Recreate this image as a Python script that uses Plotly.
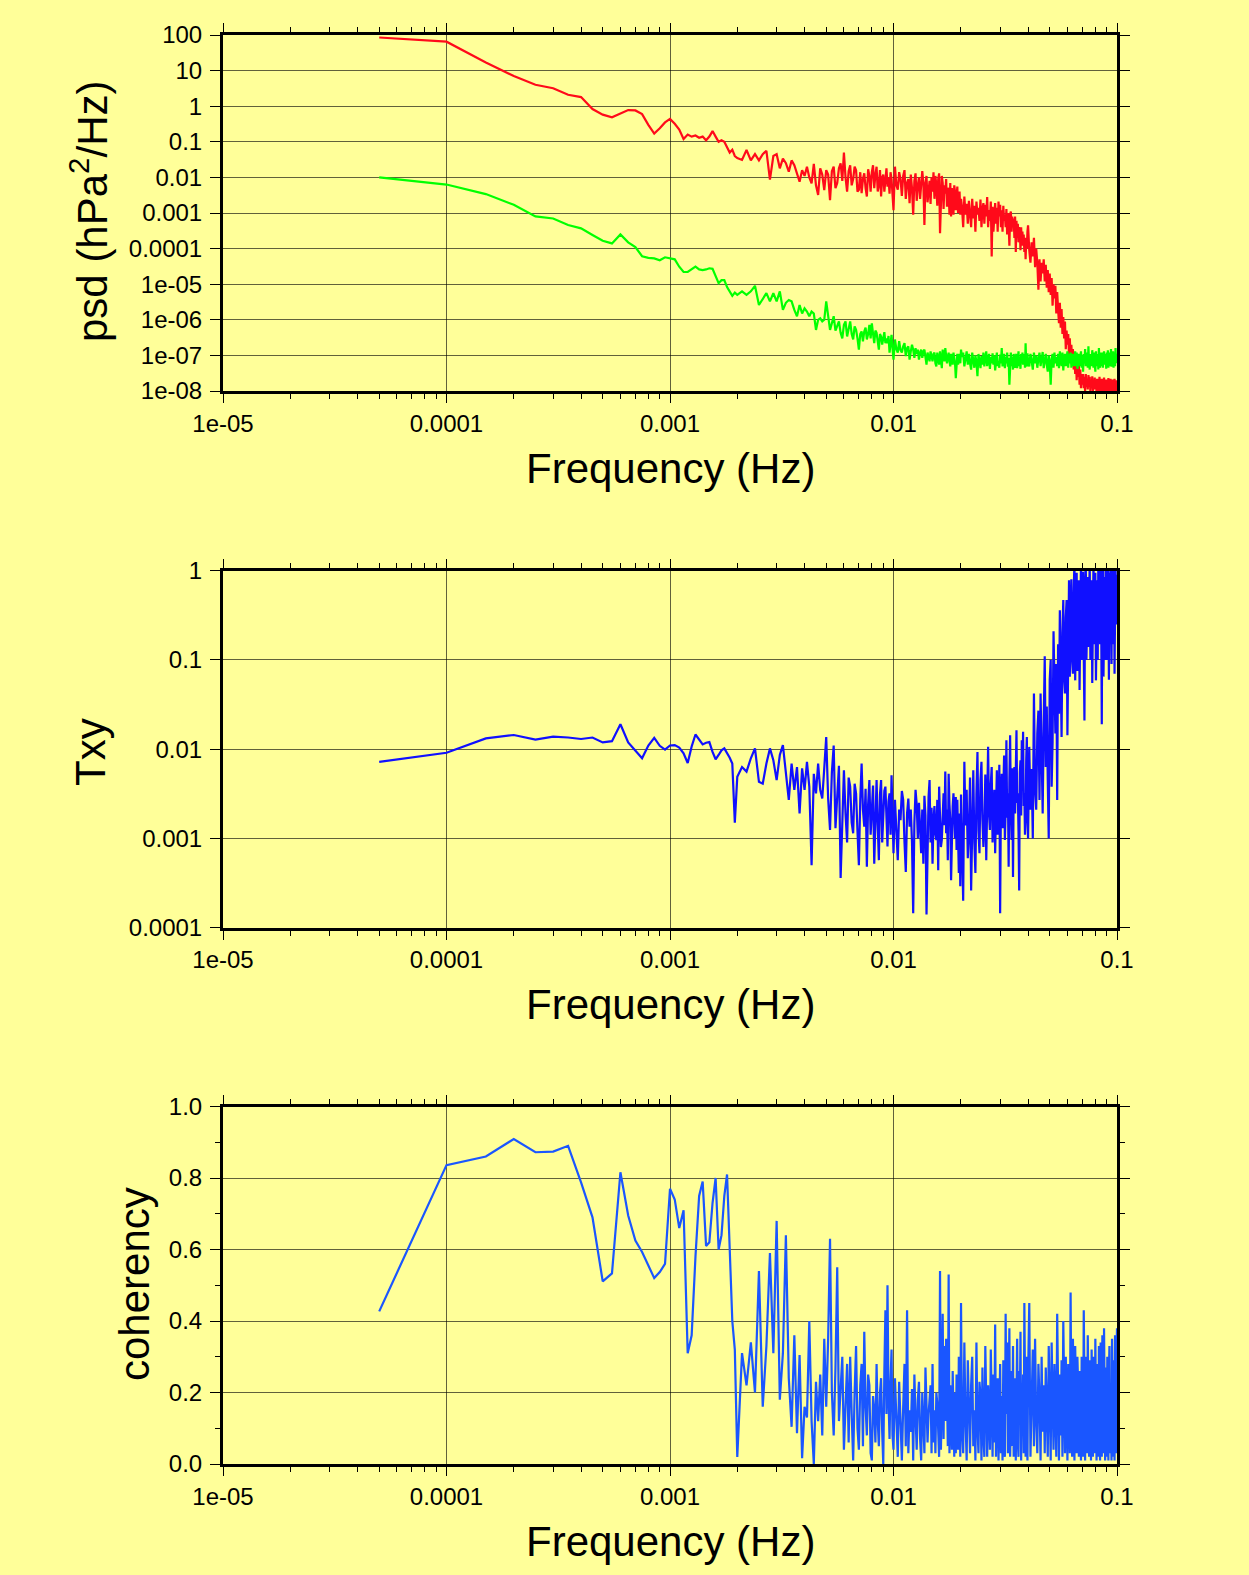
import plotly.graph_objects as go

# ---- frequency grid (Hz): multiples of the 5e-5 Hz resolution, sampled where values were read
df_hz = 5e-5
freq_index = (list(range(1, 41)) + list(range(42, 101, 2)) + list(range(102, 201, 2))
              + list(range(203, 402, 3)) + list(range(405, 801, 5)) + list(range(810, 2001, 10)))
freq = [k * df_hz for k in freq_index]

# ---- panel 1: power spectral densities (hPa^2/Hz)
psd_red = [
    85, 65, 17, 7, 4.0, 3.2, 2.1, 1.8, 0.83, 0.58,
    0.49, 0.63, 0.78, 0.76, 0.6, 0.3, 0.17, 0.24, 0.35, 0.44,
    0.32, 0.22, 0.12, 0.16, 0.14, 0.15, 0.13, 0.14, 0.11, 0.14,
    0.2, 0.14, 0.1, 0.11, 0.1, 0.07, 0.05, 0.06, 0.04, 0.035,
    0.031, 0.059, 0.03, 0.045, 0.03, 0.045, 0.056, 0.0087, 0.04, 0.045,
    0.018, 0.034, 0.025, 0.0145, 0.03, 0.022, 0.013, 0.0076, 0.016, 0.011,
    0.02, 0.01, 0.0068, 0.024, 0.006, 0.0032, 0.018, 0.012, 0.0044, 0.016,
    0.012, 0.0023, 0.015, 0.02, 0.005, 0.007, 0.018, 0.025, 0.008, 0.05,
    0.01, 0.004, 0.015, 0.022, 0.006, 0.009, 0.02, 0.016, 0.004, 0.0045,
    0.014, 0.0036, 0.009, 0.013, 0.005, 0.0029, 0.017, 0.011, 0.004, 0.014,
    0.022, 0.005, 0.012, 0.02, 0.004, 0.006, 0.016, 0.0029, 0.01, 0.012,
    0.004, 0.008, 0.018, 0.0055, 0.01, 0.0035, 0.014, 0.009, 0.004, 0.0012,
    0.02, 0.006, 0.0045, 0.014, 0.009, 0.003, 0.011, 0.016, 0.0025, 0.007,
    0.009, 0.0019, 0.012, 0.005, 0.0009, 0.008, 0.013, 0.0022, 0.006, 0.01,
    0.0025, 0.009, 0.015, 0.007, 0.00046, 0.0068, 0.011, 0.002, 0.005, 0.008,
    0.0018, 0.01, 0.004, 0.014, 0.0025, 0.011, 0.006, 0.0016, 0.009, 0.013,
    0.00027, 0.003, 0.011, 0.007, 0.0013, 0.006, 0.0035, 0.009, 0.0015, 0.005,
    0.0045, 0.0009, 0.007, 0.0008, 0.005, 0.0025, 0.0009, 0.006, 0.004, 0.0012,
    0.0038, 0.0055, 0.001, 0.003, 0.004, 0.0009, 0.0025,
    1.5e-3,
    4e-4, 2.9e-3, 9e-4, 1.8e-3, 5e-4, 2.2e-3, 1.1e-3, 4e-4, 2.5e-3, 7e-4,
    1.6e-3, 3e-4, 2.1e-3, 9e-4, 1.4e-3, 6e-4, 2.4e-3, 4e-4, 1.3e-3, 1.9e-3,
    5e-4, 1.7e-3, 8e-4, 2.8e-3, 4e-4, 1.2e-3, 6e-4, 2.1e-3, 6e-5, 1.5e-3,
    3e-4, 1.1e-3, 1.9e-3, 5e-4, 1.4e-3, 3e-4, 2.1e-3, 8e-4, 1.7e-3, 4e-4,
    1.2e-3, 3e-4, 1.6e-3, 6e-4, 9e-4, 4e-4, 1.3e-3, 2.5e-4, 1.0e-3, 5e-4,
    1.2e-4, 9e-4, 1.1e-3, 3e-4, 8e-4, 4e-4, 7e-4, 2e-4, 8e-4, 8e-5,
    6e-4, 2e-4, 5e-4, 1.5e-4, 4e-4, 3e-4, 9e-5, 4e-4, 1.2e-4, 3e-4,
    1.2e-4, 2.5e-4, 8e-5, 2e-4, 5e-5, 1.8e-4, 1e-4, 3e-4, 4.5e-4,
    9e-5, 4e-5, 1.5e-4, 6e-5, 2e-4, 3e-5, 1e-4, 4e-5, 7e-6, 5e-5,
    1.2e-5, 4e-5, 2e-5, 5e-5, 1.2e-5, 3.5e-5, 8e-6, 2.5e-5, 6e-6, 2e-5,
    5e-6, 1.5e-5, 2.5e-6, 1e-5, 4e-6, 9e-6, 1.5e-6, 6e-6, 2e-6, 8e-7,
    3e-6, 6e-7, 2e-6, 4e-7, 1.2e-6, 3e-7, 9e-7, 1.5e-7, 5e-7, 2e-7,
    4e-7, 1e-7, 3e-7, 8e-8, 2e-7, 6e-8, 1.5e-7, 4e-8, 1e-7, 3e-8,
    8e-8, 2e-8, 6e-8, 2.5e-8, 5e-8, 1.5e-8, 4e-8, 1.2e-8, 3e-8, 1.5e-8,
    3e-8, 1.2e-8, 2.5e-8, 1e-8, 3e-8, 1.3e-8, 2.2e-8, 1.1e-8, 2.8e-8, 1.3e-8,
    2.5e-8, 1e-8, 2e-8, 1.2e-8, 2.6e-8, 1e-8, 2e-8, 1.1e-8, 2.4e-8, 1.2e-8,
    2e-8, 9e-9, 2.2e-8, 1.1e-8, 1.8e-8, 1e-8, 2.5e-8, 1.1e-8, 2e-8, 9e-9,
    2.2e-8, 1.1e-8, 1.9e-8, 1e-8, 2.4e-8, 1.2e-8, 1.8e-8, 9e-9, 2.1e-8, 1.1e-8,
    2e-8, 9e-9, 2.3e-8, 1.1e-8, 1.7e-8, 1e-8, 2.2e-8, 9e-9, 1.9e-8, 1.1e-8,
    2.1e-8, 1e-8, 1.8e-8, 9e-9, 2.2e-8, 1.1e-8, 1.7e-8, 1e-8, 2e-8, 1.2e-8,
]

psd_green = [
    0.01, 0.0063, 0.0034, 0.0017, 0.0008, 0.0007, 0.00046, 0.00037, 0.00024, 0.000166,
    0.00014, 0.00025, 0.00015, 0.00011, 6.1e-5, 5.5e-5, 5.3e-5, 4.7e-5, 5.7e-5, 5.3e-5,
    5e-5, 3.1e-5, 2.2e-5, 2.2e-5, 2.6e-5, 3.1e-5, 2.6e-5, 2.5e-5, 2.6e-5, 2.8e-5,
    2.7e-5, 1.6e-5, 1.07e-5, 1.3e-5, 1.3e-5, 8.3e-6, 6.3e-6, 4.7e-6, 5.8e-6, 5e-6,
    6.3e-6, 5e-6, 6.3e-6, 9e-6, 2.6e-6, 4e-6, 5.6e-6, 3.3e-6, 5.6e-6, 3.3e-6,
    6.3e-6, 1.9e-6, 3e-6, 3.6e-6, 3.3e-6, 1.9e-6, 1.26e-6, 2.6e-6, 1.5e-6, 2.1e-6,
    1.7e-6, 1.26e-6, 1.7e-6, 1.5e-6, 5.2e-7, 1e-6, 1.1e-6, 9e-7, 1e-6, 3.3e-6,
    1.2e-6, 5.2e-7, 8e-7, 1.26e-6, 5e-7, 6.5e-7, 9e-7, 4.3e-7, 3e-7, 7.2e-7,
    9e-7, 3.4e-7, 6e-7, 9e-7, 4e-7, 2.8e-7, 6.5e-7, 5.2e-7, 3e-7, 1.45e-7,
    4e-7, 4.7e-7, 2.5e-7, 4.7e-7, 6e-7, 2.8e-7, 4e-7, 7.2e-7, 3e-7, 8e-7,
    4e-7, 2.2e-7, 5e-7, 4.3e-7, 2.5e-7, 1.45e-7, 4e-7, 3.4e-7, 2e-7, 3.4e-7,
    4.5e-7, 2.2e-7, 3e-7, 2.2e-7, 3.5e-7, 1.2e-7, 2.5e-7, 3.8e-7, 1.6e-7, 7.6e-8,
    2.8e-7, 1.5e-7, 1.2e-7, 2.5e-7, 1.4e-7, 1.2e-7, 1.8e-7, 2.2e-7, 9.5e-8, 1.6e-7,
    1.8e-7, 7.6e-8, 1.3e-7, 2e-7, 1.45e-7, 8.5e-8, 1.6e-7, 1.1e-7, 1.45e-7, 7.6e-8,
    1.2e-7, 1.45e-7, 8.5e-8, 1.3e-7, 1.45e-7, 7e-8, 5.5e-8, 1.2e-7, 9e-8, 6.8e-8,
    1.3e-7, 1e-7, 6.8e-8, 1.1e-7, 1.2e-7, 6e-8, 4.9e-8, 1.2e-7, 9e-8, 5.5e-8,
    1.3e-7, 8e-8, 4.4e-8, 1.45e-7, 9e-8, 6.8e-8, 1.6e-7, 1e-7, 6e-8, 9e-8,
    1.2e-7, 7e-8, 4.9e-8, 1.1e-7, 8e-8, 5.5e-8, 1.2e-7, 9e-8, 6e-8, 2.3e-8,
    8e-8, 1.1e-7, 5.5e-8, 9e-8, 1.1e-7, 6e-8, 1.45e-7,
    9e-8,
    1.2e-7, 4.9e-8, 8e-8, 1.3e-7, 5.5e-8, 1.1e-7, 6e-8, 4e-8, 1.2e-7, 7e-8,
    4.5e-8, 1e-7, 6.5e-8, 2.6e-8, 1.1e-7, 7e-8, 4.4e-8, 9.5e-8, 5.5e-8, 1.2e-7,
    4.9e-8, 8.5e-8, 1.3e-7, 5e-8, 7.5e-8, 1.1e-7, 4.2e-8, 9e-8, 6e-8, 1.15e-7,
    5.5e-8, 1e-7, 3.8e-8, 8e-8, 1.2e-7, 5e-8, 7e-8, 4.5e-8, 1.05e-7, 6e-8,
    1.6e-7, 4.9e-8, 8e-8, 1.1e-7, 4.4e-8, 9e-8, 6e-8, 1.2e-7, 4.8e-8, 8.5e-8,
    1.5e-8, 7.6e-8, 1.2e-7, 5e-8, 9e-8, 4e-8, 1.1e-7, 6.5e-8, 4.5e-8, 1e-7,
    1.1e-7, 4.4e-8, 8e-8, 1.3e-7, 5e-8, 7e-8, 4.2e-8, 1.1e-7, 6e-8, 1.2e-7,
    5.5e-8, 9e-8, 1.1e-7, 4.5e-8, 2.2e-7, 6e-8, 4.9e-8, 1.15e-7, 7e-8,
    4.9e-8, 1.1e-7, 7e-8, 4e-8, 1.2e-7, 6e-8, 1e-7, 4.5e-8, 8e-8, 1.2e-7,
    5e-8, 9e-8, 1.25e-7, 4.4e-8, 7e-8, 1.1e-7, 5.5e-8, 3.5e-8, 1e-7, 6.5e-8,
    1.5e-8, 8e-8, 1.1e-7, 4.5e-8, 1.2e-7, 6e-8, 9e-8, 5e-8, 1.1e-7, 4.4e-8,
    1.3e-7, 7e-8, 5e-8, 1.2e-7, 3.8e-8, 9e-8, 1.1e-7, 5e-8, 8e-8, 1.3e-7,
    4.5e-8, 1.1e-7, 6e-8, 1.2e-7, 4.5e-8, 8e-8, 1.1e-7, 5e-8, 7e-8, 1.3e-7,
    5e-8, 1.2e-7, 4.2e-8, 9e-8, 1.1e-7, 5e-8, 7.5e-8, 1.3e-7, 4.5e-8, 1e-7,
    3.5e-8, 1.1e-7, 6e-8, 1.5e-7, 5e-8, 8e-8, 1.2e-7, 4.5e-8, 1.8e-7, 6e-8,
    4e-8, 1.1e-7, 7e-8, 5e-8, 1.4e-7, 6e-8, 4.5e-8, 1.2e-7, 8e-8, 3.5e-8,
    1.3e-7, 5e-8, 9e-8, 1.1e-7, 4e-8, 1.6e-7, 6e-8, 4.5e-8, 1.2e-7, 7e-8,
    5e-8, 1.2e-7, 4.5e-8, 1e-7, 1.3e-7, 5.5e-8, 8e-8, 1.1e-7, 4.2e-8, 1.2e-7,
    6e-8, 1.4e-7, 4.5e-8, 9e-8, 1.2e-7, 5e-8, 7e-8, 1.5e-7, 4.8e-8, 1.1e-7,
    6e-8, 1.3e-7, 4.5e-8, 1e-7, 1.2e-7, 5e-8, 1.6e-7, 7e-8, 1.1e-7, 6e-8,
]

# ---- panel 2: transfer function Txy
txy = [
    0.0072, 0.0091, 0.0132, 0.0144, 0.0128, 0.0138, 0.0135, 0.013, 0.0135, 0.0119,
    0.0123, 0.019, 0.0119, 0.0097, 0.0079, 0.011, 0.0134, 0.0109, 0.0099, 0.011,
    0.0111, 0.0104, 0.009, 0.007, 0.0107, 0.0146, 0.0126, 0.0113, 0.0118, 0.012,
    0.0093, 0.0077, 0.0086, 0.0097, 0.0102, 0.0091, 0.008, 0.0069, 0.0015, 0.0049,
    0.0063, 0.0056, 0.0079, 0.0102, 0.0043, 0.0041, 0.0069, 0.0102, 0.0075, 0.0045,
    0.0086, 0.0111, 0.0049, 0.0027, 0.0069, 0.0035, 0.0063, 0.0019, 0.0061, 0.0035,
    0.0072, 0.0038, 0.0005, 0.0053, 0.0032, 0.0069, 0.0035, 0.0028, 0.0061, 0.0137,
    0.0028, 0.00124, 0.0055, 0.011, 0.0013, 0.0032, 0.0065, 0.00036, 0.0022, 0.0058,
    0.0019, 0.0009, 0.0048, 0.0038, 0.0015, 0.00114, 0.0041, 0.0032, 0.0012, 0.0005,
    0.0027, 0.0069, 0.0021, 0.00135, 0.0036, 0.00048, 0.0024, 0.0045, 0.0011, 0.0023,
    0.0039, 0.00052, 0.0017, 0.0045, 0.0014, 0.00057, 0.0031, 0.0045, 0.0009, 0.0018,
    0.0034, 0.0038, 0.0012, 0.00081, 0.0026, 0.0032, 0.0011, 0.0051, 0.0019, 0.00068,
    0.0027, 0.0011, 0.00057, 0.0021, 0.0016, 0.0034, 0.0027, 0.0009, 0.00042, 0.0019,
    0.0028, 0.00135, 0.0021, 0.0009, 0.000145, 0.0015, 0.0035, 0.0024, 0.001, 0.0025,
    0.0013, 0.00068, 0.0021, 0.00052, 0.003, 0.0018, 0.00014, 0.00135, 0.0029, 0.0045,
    0.0009, 0.0022, 0.00052, 0.0016, 0.0023, 0.0011, 0.00096, 0.0027, 0.00044, 0.0038,
    0.0019, 0.0008, 0.00096, 0.0025, 0.0032, 0.0014, 0.0056, 0.00114, 0.0021, 0.00057,
    0.0053, 0.0024, 0.0016, 0.00034, 0.0015, 0.0023, 0.0032, 0.0013, 0.001, 0.0029,
    0.00074, 0.0027, 0.0012, 0.00041, 0.0019, 0.00029, 0.0031,
    0.0012,
    0.0002, 0.0072, 0.0014, 0.0035, 0.0006, 0.00114, 0.0048, 0.00026, 0.0022, 0.0058,
    0.0009, 0.00041, 0.0031, 0.0093, 0.0012, 0.00068, 0.0045, 0.0072, 0.0016, 0.0008,
    0.00135, 0.0052, 0.00057, 0.0028, 0.0106, 0.0019, 0.00124, 0.0041, 0.0063, 0.0009,
    0.0016, 0.0035, 0.00068, 0.0024, 0.0058, 0.0011, 0.0019, 0.0067, 0.000145, 0.0029,
    0.0053, 0.0013, 0.0027, 0.0085, 0.00096, 0.0021, 0.0126, 0.0017, 0.0032, 0.00048,
    0.0045, 0.0143, 0.0022, 0.00096, 0.0061, 0.00037, 0.0039, 0.0063, 0.0019, 0.0098,
    0.0163, 0.0025, 0.0032, 0.0012, 0.00026, 0.0055, 0.0075, 0.0018, 0.0126, 0.0034,
    0.0157, 0.0023, 0.0032, 0.0011, 0.0016, 0.0075, 0.0137, 0.0021, 0.001,
    0.0106, 0.0021, 0.006, 0.001, 0.042, 0.0035, 0.0021, 0.015, 0.027, 0.0027,
    0.042, 0.0055, 0.0019, 0.02, 0.11, 0.0063, 0.03, 0.0045, 0.001, 0.06,
    0.1, 0.0038, 0.012, 0.21, 0.04, 0.015, 0.09, 0.0027, 0.15, 0.025,
    0.36, 0.03, 0.0137, 0.2, 0.47, 0.06, 0.042, 0.3, 0.47, 0.0143,
    0.15, 0.78, 0.065, 0.4, 0.8, 0.1, 0.07, 0.55, 1.3, 0.059,
    0.25, 0.95, 0.075, 0.5, 0.78, 0.046, 0.3, 1.3, 0.1, 0.6,
    0.97, 0.12, 0.021, 0.7, 1.3, 0.1, 0.4, 0.85, 0.14, 0.6,
    1.3, 0.1, 0.35, 0.78, 0.055, 0.5, 1.3, 0.15, 0.7, 0.95,
    0.059, 0.4, 0.78, 0.1, 1.3, 0.2, 0.6, 0.15, 1.3, 0.25,
    0.019, 0.7, 1.3, 0.065, 0.5, 0.85, 0.1, 1.3, 0.3, 0.8,
    0.1, 1.3, 0.4, 0.06, 0.95, 0.2, 1.3, 0.5, 0.09, 0.85,
    1.3, 0.15, 0.6, 1.3, 0.07, 0.7, 1.3, 0.25, 0.9, 0.36,
]

# ---- panel 3: coherency
coherency = [
    0.427, 0.836, 0.86, 0.909, 0.872, 0.874, 0.89, 0.788, 0.69, 0.511,
    0.533, 0.816, 0.695, 0.625, 0.593, 0.556, 0.52, 0.537, 0.56, 0.77,
    0.74, 0.66, 0.71, 0.31, 0.36, 0.58, 0.75, 0.79, 0.61, 0.62,
    0.73, 0.80, 0.60, 0.64, 0.75, 0.81, 0.6, 0.40, 0.32, 0.02,
    0.31, 0.22, 0.34, 0.2, 0.54, 0.16, 0.33, 0.59, 0.31, 0.68,
    0.18, 0.31, 0.64, 0.24, 0.104, 0.36, 0.086, 0.305, 0.016, 0.16,
    0.13, 0.4, 0.12, 0.0, 0.23, 0.12, 0.25, 0.08, 0.35, 0.16,
    0.35, 0.63, 0.2, 0.08, 0.27, 0.55, 0.12, 0.22, 0.3, 0.04,
    0.18, 0.28, 0.06, 0.3, 0.14, 0.01, 0.2, 0.33, 0.1, 0.04,
    0.22, 0.28, 0.05, 0.37, 0.16, 0.08, 0.25, 0.22, 0.03, 0.01,
    0.19, 0.15, 0.06, 0.28, 0.12, 0.05, 0.2, 0.24, 0.09, 0.0,
    0.26, 0.43, 0.14, 0.5, 0.18, 0.07, 0.23, 0.32, 0.08, 0.04,
    0.24, 0.1, 0.02, 0.23, 0.12, 0.01, 0.16, 0.28, 0.05, 0.43,
    0.03, 0.15, 0.09, 0.21, 0.01, 0.25, 0.13, 0.04, 0.18, 0.23,
    0.07, 0.01, 0.2, 0.12, 0.03, 0.27, 0.13, 0.06, 0.14, 0.2,
    0.22, 0.03, 0.28, 0.06, 0.15, 0.03, 0.2, 0.17, 0.08, 0.02,
    0.54, 0.04, 0.18, 0.42, 0.07, 0.33, 0.12, 0.35, 0.2, 0.05,
    0.53, 0.03, 0.22, 0.15, 0.04, 0.26, 0.16, 0.02, 0.2, 0.03,
    0.25, 0.12, 0.04, 0.3, 0.15, 0.02, 0.45,
    0.1,
    0.03, 0.34, 0.12, 0.01, 0.29, 0.18, 0.03, 0.22, 0.3, 0.05,
    0.15, 0.01, 0.34, 0.1, 0.03, 0.23, 0.19, 0.01, 0.27, 0.08,
    0.02, 0.33, 0.14, 0.02, 0.22, 0.09, 0.04, 0.32, 0.17, 0.02,
    0.25, 0.06, 0.39, 0.02, 0.16, 0.24, 0.01, 0.12, 0.28, 0.03,
    0.19, 0.01, 0.29, 0.08, 0.02, 0.42, 0.14, 0.34, 0.03, 0.21,
    0.38, 0.02, 0.13, 0.26, 0.05, 0.33, 0.02, 0.18, 0.24, 0.01,
    0.2, 0.35, 0.06, 0.02, 0.26, 0.15, 0.37, 0.01, 0.22, 0.1,
    0.25, 0.03, 0.45, 0.12, 0.02, 0.3, 0.18, 0.01, 0.24,
    0.45, 0.02, 0.2, 0.32, 0.05, 0.35, 0.12, 0.03, 0.28, 0.18,
    0.01, 0.3, 0.09, 0.22, 0.03, 0.27, 0.15, 0.02, 0.33, 0.1,
    0.01, 0.34, 0.19, 0.04, 0.28, 0.12, 0.02, 0.42, 0.21, 0.01,
    0.25, 0.08, 0.29, 0.02, 0.4, 0.16, 0.03, 0.3, 0.11, 0.01,
    0.28, 0.2, 0.03, 0.48, 0.14, 0.02, 0.35, 0.09, 0.01, 0.33,
    0.17, 0.03, 0.3, 0.22, 0.02, 0.26, 0.12, 0.01, 0.3, 0.2,
    0.02, 0.43, 0.1, 0.01, 0.3, 0.18, 0.03, 0.36, 0.24, 0.02,
    0.29, 0.08, 0.01, 0.32, 0.15, 0.02, 0.3, 0.21, 0.03, 0.35,
    0.13, 0.01, 0.28, 0.19, 0.02, 0.33, 0.1, 0.01, 0.34, 0.22,
    0.02, 0.36, 0.14, 0.03, 0.38, 0.2, 0.01, 0.27, 0.16, 0.02,
    0.3, 0.11, 0.01, 0.25, 0.33, 0.03, 0.22, 0.12, 0.01, 0.35,
    0.18, 0.02, 0.29, 0.24, 0.01, 0.36, 0.14, 0.03, 0.3, 0.38,
]

for name, s in [("psd_red", psd_red), ("psd_green", psd_green), ("txy", txy), ("coherency", coherency)]:
    assert len(s) == len(freq), (name, len(s), len(freq))

# ---- axis ticks
x_tickvals = [1e-5, 1e-4, 1e-3, 1e-2, 1e-1]
x_ticktext = ["1e-05", "0.0001", "0.001", "0.01", "0.1"]
x_minor = [m * 10.0 ** e for e in range(-5, -1) for m in range(2, 10)]
psd_tickvals = [1e-8, 1e-7, 1e-6, 1e-5, 1e-4, 1e-3, 1e-2, 1e-1, 1, 10, 100]
psd_ticktext = ["1e-08", "1e-07", "1e-06", "1e-05", "0.0001", "0.001", "0.01", "0.1", "1", "10", "100"]
txy_tickvals = [1e-4, 1e-3, 1e-2, 1e-1, 1]
txy_ticktext = ["0.0001", "0.001", "0.01", "0.1", "1"]
coh_tickvals = [0.0, 0.2, 0.4, 0.6, 0.8, 1.0]
coh_ticktext = ["0.0", "0.2", "0.4", "0.6", "0.8", "1.0"]
coh_minor = [0.1, 0.3, 0.5, 0.7, 0.9]

BG = "#ffff99"
FONT = "Liberation Sans, Arial, Helvetica, sans-serif"
GRID = "rgba(0,0,0,0.62)"
LW = 2.2

fig = go.Figure()
fig.add_trace(go.Scatter(x=freq, y=psd_red, mode="lines", line=dict(color="#ff0a1a", width=LW),
                         xaxis="x", yaxis="y"))
fig.add_trace(go.Scatter(x=freq, y=psd_green, mode="lines", line=dict(color="#00ff00", width=LW),
                         xaxis="x", yaxis="y"))
fig.add_trace(go.Scatter(x=freq, y=txy, mode="lines", line=dict(color="#1010ff", width=LW),
                         xaxis="x2", yaxis="y2"))
fig.add_trace(go.Scatter(x=freq, y=coherency, mode="lines", line=dict(color="#1a56ff", width=LW),
                         xaxis="x3", yaxis="y3"))

W = 1249.0
H = 1575.0
XDOM = [223 / W, 1117 / W]
doms = [[1 - 391 / H, 1 - 35 / H], [1 - 927.6 / H, 1 - 570.7 / H], [1 - 1464 / H, 1 - 1106.5 / H]]

def xaxis(anchor):
    return dict(type="log", range=[-5, -1], domain=XDOM, anchor=anchor, automargin=False,
                tickmode="array", tickvals=x_tickvals, ticktext=x_ticktext,
                ticks="outside", ticklen=9, tickwidth=1.3, tickcolor="black",
                ticklabelstandoff=0,
                showline=True, linewidth=3, linecolor="black", mirror="allticks",
                showgrid=True, gridcolor=GRID, gridwidth=1, zeroline=False,
                tickfont=dict(family=FONT, size=24, color="black"),
                minor=dict(tickmode="array", tickvals=x_minor, ticks="outside", ticklen=5,
                           tickwidth=1.3, tickcolor="black", showgrid=False))

def yaxis(anchor, dom, **kw):
    d = dict(domain=dom, anchor=anchor, automargin=False,
             ticks="outside", ticklen=10, tickwidth=1.3, tickcolor="black",
             ticklabelstandoff=3,
             showline=True, linewidth=3, linecolor="black", mirror="allticks",
             showgrid=True, gridcolor=GRID, gridwidth=1, zeroline=False,
             tickfont=dict(family=FONT, size=24, color="black"))
    d.update(kw)
    return d

fig.update_layout(
    width=1249, height=1575, margin=dict(l=0, r=0, t=0, b=0, pad=0), autosize=False,
    paper_bgcolor=BG, plot_bgcolor=BG, showlegend=False,
    xaxis=xaxis("y"), xaxis2=xaxis("y2"), xaxis3=xaxis("y3"),
    yaxis=yaxis("x", doms[0], type="log", range=[-8, 2], tickmode="array",
                tickvals=psd_tickvals, ticktext=psd_ticktext),
    yaxis2=yaxis("x2", doms[1], type="log", range=[-4, 0], tickmode="array",
                 tickvals=txy_tickvals, ticktext=txy_ticktext),
    yaxis3=yaxis("x3", doms[2], range=[0, 1], tickmode="array",
                 tickvals=coh_tickvals, ticktext=coh_ticktext,
                 minor=dict(tickmode="array", tickvals=coh_minor, ticks="outside", ticklen=5,
                            tickwidth=1.3, tickcolor="black", showgrid=False)),
)

title_font = dict(family=FONT, size=42, color="black")
xc = (XDOM[0] + XDOM[1]) / 2
ann = []
for ypx in (469, 1005, 1541):
    ann.append(dict(text="Frequency (Hz)", x=xc, y=1 - ypx / H, xref="paper", yref="paper",
                    xanchor="center", yanchor="middle", showarrow=False, font=title_font))
for text, xpx, ypx in (("psd (hPa<sup>2</sup>/Hz)", 89, 212), ("Txy", 90, 752), ("coherency", 134, 1284)):
    ann.append(dict(text=text, x=xpx / W, y=1 - ypx / H, xref="paper", yref="paper",
                    xanchor="center", yanchor="middle", textangle=-90, showarrow=False,
                    font=title_font))
fig.update_layout(annotations=ann)

fig.write_html("out.html", config={"displayModeBar": False, "responsive": False},
               post_script="document.body.style.margin='0px';document.body.style.background='" + BG + "';")
